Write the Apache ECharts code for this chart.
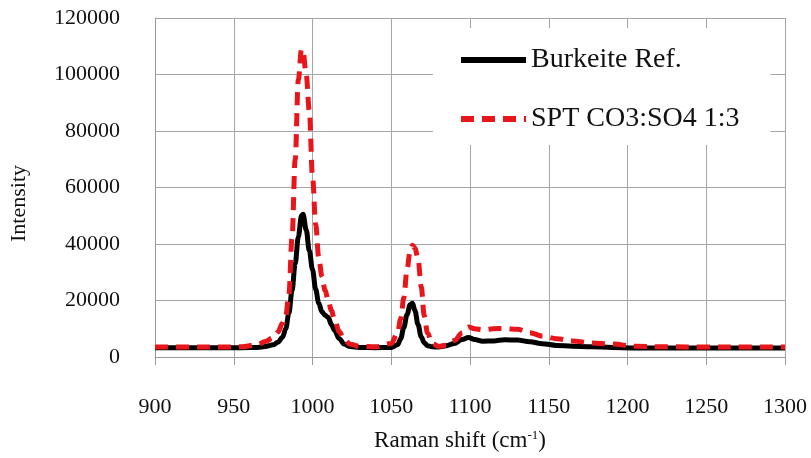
<!DOCTYPE html>
<html>
<head>
<meta charset="utf-8">
<script src="https://cdn.jsdelivr.net/npm/echarts@6/dist/echarts.min.js"></script>
<style>html,body{margin:0;padding:0;background:#fff}#c{width:811px;height:458px}</style>
</head>
<body>
<div id="c"></div>
<script>
var wavenumbers = [900,920,940,955,965,970,975,978,981,983,985,987,989,991,993,994,996,998,1000,1002,1004,1006,1008,1010,1012,1014,1017,1020,1024,1030,1040,1050,1054,1056,1058,1060,1062,1063.5,1065,1067,1069,1071,1073,1076,1080,1085,1090,1095,1099,1103,1108,1115,1122,1130,1138,1146,1155,1165,1177,1190,1205,1225,1250,1275,1300];
var burkeiteRef = [3300,3300,3300,3300,3400,3700,4300,5200,7000,10000,15500,23500,33000,42500,50000,50500,45000,37500,31000,24000,19000,16000,14800,14000,11500,9400,6500,4600,3700,3400,3300,3400,4300,6500,10500,15000,18500,19000,16500,11500,7200,5000,4000,3600,3500,4000,4800,6200,6900,6200,5600,5700,6100,6000,5400,4700,4100,3800,3600,3400,3200,3200,3200,3200,3200];
var sptCO3SO4 = [3500,3500,3500,3600,4400,5500,6800,8800,12000,14500,22000,42000,70000,98000,109000,108000,100000,87000,64000,47000,35000,28500,23500,20000,16500,13000,9000,6200,4500,3800,3600,4800,8500,13500,21000,31000,37500,39600,38500,35000,25000,14500,8500,4800,3800,4200,5800,8500,10600,10000,9600,10000,10100,9800,8600,7400,6500,5700,5000,4600,3800,3600,3500,3500,3500];
var seriesNames = ['Burkeite Ref.', 'SPT CO3:SO4 1:3'];
var xTicks = [900, 1300, 50];
var yTicks = [0, 120000, 20000];

function pairs(xs, ys){ return xs.map(function(x,i){ return [x, ys[i]]; }); }

var font = 'Liberation Serif';
var chart = echarts.init(document.getElementById('c'));
chart.setOption({
  animation: false,
  backgroundColor: '#fff',
  grid: { left: 153, right: 26, top: 18, bottom: 101, containLabel: false },
  legend: {
    left: 433, top: 28,
    orient: 'vertical',
    backgroundColor: '#fff',
    padding: [18, 31, 12, 25],
    itemGap: 31,
    itemWidth: 65, itemHeight: 14,
    itemTextGap: 10,
    itemStyle: { opacity: 0 },
    lineStyle: { width: 6 },
    textStyle: { fontFamily: font, fontSize: 28, color: '#111' },
    data: seriesNames
  },
  xAxis: {
    type: 'value', min: xTicks[0], max: xTicks[1], interval: xTicks[2],
    name: 'Raman shift (cm{sup|-1})',
    nameLocation: 'middle', nameGap: 72,
    nameTextStyle: { fontFamily: font, fontSize: 23, color: '#111', padding: [0, 20, 0, 0],
      rich: { sup: { fontFamily: font, fontSize: 13, verticalAlign: 'top', padding: [0,0,8,0], color: '#111' } } },
    axisLine: { show: true, lineStyle: { color: '#999', width: 1 } },
    axisTick: { show: true, length: 8, lineStyle: { color: '#999' } },
    axisLabel: { margin: 39, fontFamily: font, fontSize: 22, color: '#111', formatter: function(v){ return String(v); } },
    splitLine: { show: true, lineStyle: { color: '#a6a6a6', width: 1 } }
  },
  yAxis: {
    type: 'value', min: yTicks[0], max: yTicks[1], interval: yTicks[2],
    name: 'Intensity',
    nameLocation: 'middle', nameGap: 125,
    nameTextStyle: { fontFamily: font, fontSize: 22, color: '#111', padding: [0, 32, 0, 0] },
    axisLine: { show: true, lineStyle: { color: '#999', width: 1 } },
    axisTick: { show: false },
    axisLabel: { margin: 35, fontFamily: font, fontSize: 22, color: '#111', formatter: function(v){ return String(v); } },
    splitLine: { show: true, lineStyle: { color: '#a6a6a6', width: 1 } }
  },
  series: [
    { name: seriesNames[0], type: 'line', data: pairs(wavenumbers, burkeiteRef),
      symbol: 'none', smooth: 0.35, smoothMonotone: 'x',
      lineStyle: { color: '#000', width: 5 }, itemStyle: { color: '#000' } },
    { name: seriesNames[1], type: 'line', data: pairs(wavenumbers, sptCO3SO4),
      symbol: 'none', smooth: 0.35, smoothMonotone: 'x',
      lineStyle: { color: '#e8151b', width: 5, type: [13, 8] }, itemStyle: { color: '#e8151b' } }
  ]
});
</script>
</body>
</html>
